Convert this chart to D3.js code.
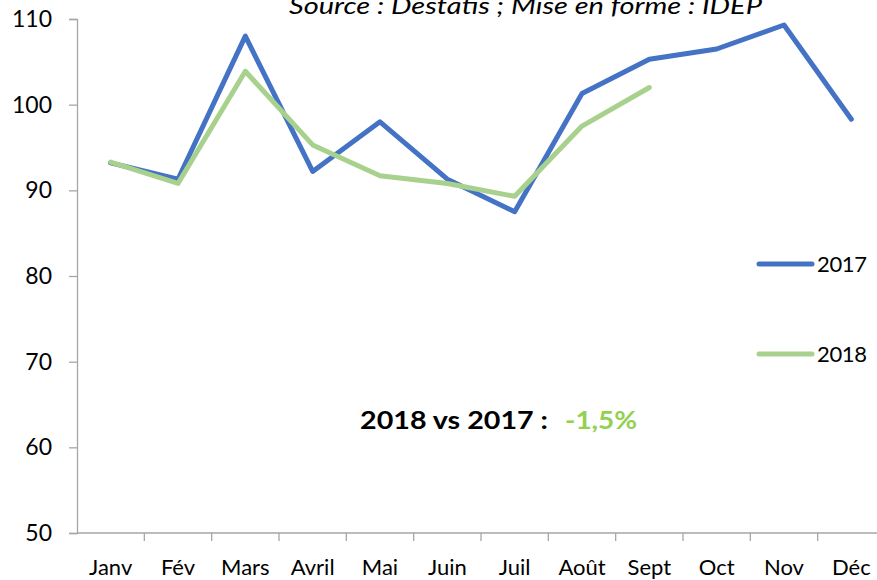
<!DOCTYPE html>
<html>
<head>
<meta charset="utf-8">
<script src="https://cdn.jsdelivr.net/npm/d3@7"></script>
<style>
  body { margin: 0; background: #fff; }
  svg text { font-family: Lato, "Open Sans", sans-serif; fill: #000; }
</style>
</head>
<body>
<svg width="877" height="580"></svg>
<script>
var months = ["Janv", "Fév", "Mars", "Avril", "Mai", "Juin", "Juil", "Août", "Sept", "Oct", "Nov", "Déc"];
var values2017 = [93.2, 91.3, 108.0, 92.2, 98.0, 91.3, 87.5, 101.3, 105.3, 106.5, 109.3, 98.3];
var values2018 = [93.3, 90.8, 103.9, 95.3, 91.7, 90.8, 89.3, 97.5, 102.0];
var yTicks = [50, 60, 70, 80, 90, 100, 110];

var svg = d3.select("svg");

// plot area (runs past the right edge, like the original)
var x = d3.scaleBand().domain(months).range([77, 885]);
var y = d3.scaleLinear().domain([50, 110]).range([533, 19]);

var axisColor = "#a6a6a6";

// y axis
var yAxis = svg.append("g")
    .attr("transform", "translate(77,0)")
    .call(d3.axisLeft(y).tickValues(yTicks).tickSize(8).tickPadding(17));
yAxis.select(".domain").attr("stroke", axisColor).attr("stroke-width", 1.3);
yAxis.selectAll(".tick line").attr("stroke", axisColor).attr("stroke-width", 1.3);
yAxis.selectAll(".tick text")
    .style("font-size", "23px")
    .attr("fill", "#000");

// x axis: ticks between categories
var xAxis = svg.append("g").attr("transform", "translate(0,533)");
xAxis.append("line")
    .attr("x1", 77).attr("x2", 885)
    .attr("stroke", axisColor).attr("stroke-width", 1.3);
xAxis.selectAll("line.tk")
    .data(months.slice(1))
    .enter().append("line")
    .attr("class", "tk")
    .attr("x1", function (d) { return x(d); })
    .attr("x2", function (d) { return x(d); })
    .attr("y1", 0).attr("y2", 8)
    .attr("stroke", axisColor).attr("stroke-width", 1.3);
xAxis.selectAll("text")
    .data(months)
    .enter().append("text")
    .attr("x", function (d) { return x(d) + x.bandwidth() / 2; })
    .attr("y", 42)
    .attr("text-anchor", "middle")
    .style("font-size", "22px")
    .text(function (d) { return d; });

var lineGen = d3.line()
    .x(function (d, i) { return x(months[i]) + x.bandwidth() / 2; })
    .y(function (d) { return y(d); });

svg.append("path")
    .datum(values2017)
    .attr("d", lineGen)
    .attr("fill", "none")
    .attr("stroke", "#4472c4")
    .attr("stroke-width", 5)
    .attr("stroke-linejoin", "round")
    .attr("stroke-linecap", "round");

svg.append("path")
    .datum(values2018)
    .attr("d", lineGen)
    .attr("fill", "none")
    .attr("stroke", "#a9d18e")
    .attr("stroke-width", 5)
    .attr("stroke-linejoin", "round")
    .attr("stroke-linecap", "round");

// legend
var legend = [
    {name: "2017", color: "#4472c4", y: 264},
    {name: "2018", color: "#a9d18e", y: 354}
];
var lg = svg.append("g").selectAll("g").data(legend).enter().append("g");
lg.append("line")
    .attr("x1", 759).attr("x2", 812)
    .attr("y1", function (d) { return d.y; })
    .attr("y2", function (d) { return d.y; })
    .attr("stroke", function (d) { return d.color; })
    .attr("stroke-width", 5)
    .attr("stroke-linecap", "round");
lg.append("text")
    .attr("x", 817)
    .attr("y", function (d) { return d.y + 8; })
    .style("font-size", "22px")
    .attr("textLength", 50)
    .text(function (d) { return d.name; });

// source line (cut at the top, as in the original)
svg.append("text")
    .attr("x", 289)
    .attr("y", 14)
    .style("font-size", "24px")
    .style("font-style", "italic")
    .attr("textLength", 473)
    .attr("lengthAdjust", "spacingAndGlyphs")
    .text("Source : Destatis ; Mise en forme :  IDEP");

// annotation
svg.append("text")
    .attr("x", 360)
    .attr("y", 429)
    .style("font-size", "25px")
    .style("font-weight", "bold")
    .attr("textLength", 188)
    .attr("lengthAdjust", "spacingAndGlyphs")
    .text("2018 vs 2017 :");
svg.append("text")
    .attr("x", 565)
    .attr("y", 429)
    .style("font-size", "25px")
    .style("font-weight", "bold")
    .style("fill", "#92d050")
    .attr("textLength", 72)
    .attr("lengthAdjust", "spacingAndGlyphs")
    .text("-1,5%");
</script>
</body>
</html>
